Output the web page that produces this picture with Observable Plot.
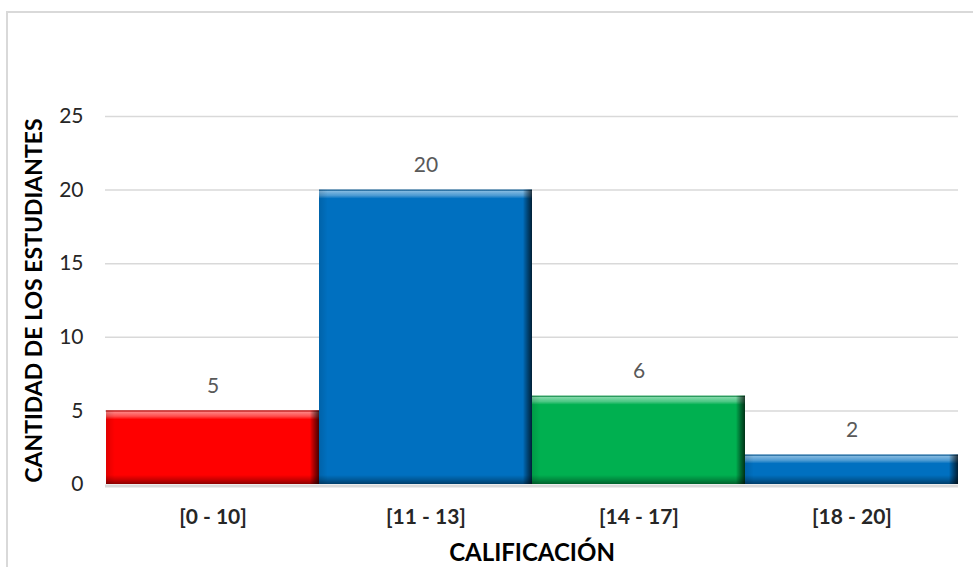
<!DOCTYPE html>
<html>
<head>
<meta charset="utf-8">
<script src="https://cdn.jsdelivr.net/npm/d3@7"></script>
<script src="https://cdn.jsdelivr.net/npm/@observablehq/plot@0.6"></script>
<style>
  html, body { margin: 0; padding: 0; background: #fff; width: 973px; height: 567px; overflow: hidden; }
  #frame { position: absolute; left: 6px; top: 11px; width: 1100px; height: 700px; border: 2px solid #d9d9d9; box-sizing: border-box; }
  #chart { position: absolute; left: 0; top: 0; }
</style>
</head>
<body>
<div id="frame"></div>
<div id="chart"></div>
<script>
// Grade ranges and number of students in each
const categories = ["[0 - 10]", "[11 - 13]", "[14 - 17]", "[18 - 20]"];
const counts = [5, 20, 6, 2];
const barColors = ["#ff0000", "#0070c0", "#00b050", "#0070c0"];
const yTicks = [0, 5, 10, 15, 20, 25];
const xTitle = "CALIFICACIÓN";
const yTitle = "CANTIDAD DE LOS ESTUDIANTES";

const rows = categories.map((cat, i) => ({cat, n: counts[i], color: barColors[i]}));

const W = 973, H = 567;
const mL = 105, mR = 15, mT = 116, mB = 83;
const bandW = (W - mL - mR) / categories.length;
const bevel = 9;
const font = "Lato, 'Open Sans', sans-serif";

const chart = Plot.plot({
  width: W,
  height: H,
  marginLeft: mL,
  marginRight: mR,
  marginTop: mT,
  marginBottom: mB,
  style: {fontFamily: font, background: "transparent", overflow: "visible"},
  x: {domain: categories, padding: 0},
  y: {domain: [0, 25]},
  color: {type: "identity"},
  marks: [
    Plot.gridY(yTicks.filter(d => d > 0), {stroke: "#d9d9d9", strokeOpacity: 1, strokeWidth: 1.5}),
    Plot.ruleY([0], {stroke: "#d9d9d9", strokeWidth: 3, dy: 1.5}),
    Plot.axisY(yTicks, {tickSize: 0, tickPadding: 22, fontSize: 21, fill: "#262626", label: null}),
    Plot.axisX({tickSize: 0, tickPadding: 25, fontSize: 21, fontWeight: "bold", fill: "#262626", label: null}),
    // bars
    Plot.barY(rows, {x: "cat", y: "n", fill: "color"}),
    // bevelled edges of each bar
    Plot.barY(rows, {x: "cat", y1: "n", y2: "n", insetBottom: -bevel, fill: "url(#bevTop)"}),
    Plot.barY(rows, {x: "cat", y1: 0, y2: 0, insetTop: -bevel, fill: "url(#bevBottom)"}),
    Plot.barY(rows, {x: "cat", y: "n", insetRight: bandW - bevel, fill: "url(#bevLeft)"}),
    Plot.barY(rows, {x: "cat", y: "n", insetLeft: bandW - bevel, fill: "url(#bevRight)"}),
    // value labels
    Plot.text(rows, {x: "cat", y: "n", text: d => String(d.n), dy: -25, fontSize: 21, fill: "#595959"}),
    // axis titles
    Plot.text([yTitle], {frameAnchor: "left", dx: -71, rotate: -90, textAnchor: "middle", fontSize: 23, fontWeight: "bold", fill: "#000", lineAnchor: "middle"}),
    Plot.text([xTitle], {frameAnchor: "bottom", dy: 69, textAnchor: "middle", fontSize: 24, fontWeight: "bold", fill: "#000", lineAnchor: "middle"})
  ]
});

// gradients for the bevel strips
const defs = d3.select(chart).insert("defs", ":first-child");
function grad(id, horizontal, stops) {
  const g = defs.append("linearGradient").attr("id", id)
    .attr("x1", 0).attr("y1", 0)
    .attr("x2", horizontal ? 1 : 0).attr("y2", horizontal ? 0 : 1);
  for (const [o, c, a] of stops) g.append("stop").attr("offset", o).attr("stop-color", c).attr("stop-opacity", a);
}
grad("bevTop", false, [[0, "#000", 0.25], [0.2, "#fff", 0.5], [0.65, "#fff", 0.3], [1, "#fff", 0]]);
grad("bevBottom", false, [[0, "#000", 0], [0.5, "#000", 0.2], [1, "#000", 0.45]]);
grad("bevLeft", true, [[0, "#000", 0.12], [1, "#000", 0]]);
grad("bevRight", true, [[0, "#000", 0.05], [0.5, "#000", 0.4], [1, "#000", 0.72]]);

document.getElementById("chart").appendChild(chart);
</script>
</body>
</html>
